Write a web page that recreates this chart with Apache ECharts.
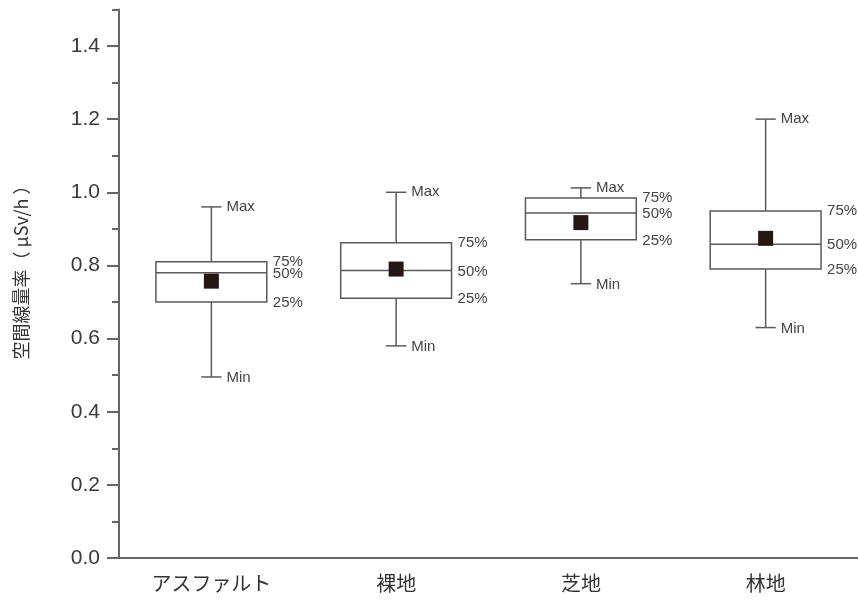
<!DOCTYPE html>
<html>
<head>
<meta charset="utf-8">
<script src="https://cdn.jsdelivr.net/npm/echarts@6/dist/echarts.min.js"></script>
<style>
html,body{margin:0;padding:0;background:#fff;}
#chart{width:858px;height:603px;}
</style>
</head>
<body>
<div id="chart"></div>
<script>
// ---- data ----
const categories = ['アスファルト', '裸地', '芝地', '林地'];
const minVals    = [0.495, 0.58, 0.75, 0.63];
const q1Vals     = [0.70, 0.71, 0.87, 0.79];
const medianVals = [0.78, 0.786, 0.943, 0.858];
const q3Vals     = [0.81, 0.862, 0.984, 0.949];
const maxVals    = [0.96, 1.0, 1.012, 1.2];
const meanVals   = [0.757, 0.79, 0.917, 0.874];
const yTickValues = [0, 0.2, 0.4, 0.6, 0.8, 1.0, 1.2, 1.4];
const yMinorTickValues = [0, 0.1, 0.2, 0.3, 0.4, 0.5, 0.6, 0.7, 0.8, 0.9, 1.0, 1.1, 1.2, 1.3, 1.4, 1.5];
const statLabels = { max: 'Max', min: 'Min', q3: '75%', med: '50%', q1: '25%' };
const yAxisTitle = '空間線量率（ μSv/h ）';

// ---- chart ----
const chart = echarts.init(document.getElementById('chart'), null, { renderer: 'canvas' });

const lineColor = '#5a5a5a';
const textColor = '#444';
const annFont = '15px "Liberation Sans", Arial, sans-serif';

const seriesData = categories.map((c, i) => [i, minVals[i], q1Vals[i], medianVals[i], q3Vals[i], maxVals[i], meanVals[i]]);

function renderItem(params, api) {
  const idx = api.value(0);
  const pMin = api.coord([idx, api.value(1)]);
  const pQ1 = api.coord([idx, api.value(2)]);
  const pMed = api.coord([idx, api.value(3)]);
  const pQ3 = api.coord([idx, api.value(4)]);
  const pMax = api.coord([idx, api.value(5)]);
  const pMean = api.coord([idx, api.value(6)]);
  const band = api.size([1, 0])[0];
  const bw = band * 0.6;
  const cw = band * 0.11;
  const cx = pMed[0];
  const boxL = cx - bw / 2, boxR = cx + bw / 2;
  const ls = { stroke: lineColor, lineWidth: 1.5, fill: null };
  const children = [
    { type: 'line', shape: { x1: cx, y1: pMax[1], x2: cx, y2: pQ3[1] }, style: ls },
    { type: 'line', shape: { x1: cx, y1: pQ1[1], x2: cx, y2: pMin[1] }, style: ls },
    { type: 'line', shape: { x1: cx - cw / 2, y1: pMax[1], x2: cx + cw / 2, y2: pMax[1] }, style: ls },
    { type: 'line', shape: { x1: cx - cw / 2, y1: pMin[1], x2: cx + cw / 2, y2: pMin[1] }, style: ls },
    { type: 'rect', shape: { x: boxL, y: pQ3[1], width: bw, height: pQ1[1] - pQ3[1] }, style: { stroke: lineColor, lineWidth: 1.5, fill: '#fff' } },
    { type: 'line', shape: { x1: boxL, y1: pMed[1], x2: boxR, y2: pMed[1] }, style: ls },
    { type: 'rect', shape: { x: pMean[0] - 7.5, y: pMean[1] - 7.5, width: 15, height: 15 }, style: { fill: '#231815', stroke: null } },
    { type: 'text', style: { text: statLabels.max, x: cx + cw / 2 + 5, y: pMax[1], verticalAlign: 'middle', align: 'left', fill: textColor, font: annFont } },
    { type: 'text', style: { text: statLabels.min, x: cx + cw / 2 + 5, y: pMin[1] + 1, verticalAlign: 'middle', align: 'left', fill: textColor, font: annFont } },
    { type: 'text', style: { text: statLabels.q3, x: boxR + 6, y: pQ3[1], verticalAlign: 'middle', align: 'left', fill: textColor, font: annFont } },
    { type: 'text', style: { text: statLabels.med, x: boxR + 6, y: pMed[1] + 1, verticalAlign: 'middle', align: 'left', fill: textColor, font: annFont } },
    { type: 'text', style: { text: statLabels.q1, x: boxR + 6, y: pQ1[1] + 1, verticalAlign: 'middle', align: 'left', fill: textColor, font: annFont } }
  ];
  return { type: 'group', children };
}

const option = {
  backgroundColor: '#fff',
  animation: false,
  grid: { left: 119, right: 0, top: 9.4, bottom: 45, containLabel: false },
  xAxis: {
    type: 'category',
    data: categories,
    boundaryGap: true,
    axisLine: { lineStyle: { color: '#666', width: 2 } },
    axisTick: { alignWithLabel: true, length: 11, lineStyle: { color: '#666', width: 2 } },
    axisLabel: { color: '#333', fontSize: 20, margin: 15, fontFamily: '"Noto Sans CJK JP", sans-serif' },
    splitLine: { show: false }
  },
  yAxis: [
    {
      type: 'value',
      min: 0, max: 1.5, interval: 0.1,
      position: 'left',
      axisLine: { show: true, lineStyle: { color: '#666', width: 2 } },
      axisTick: { show: true, length: 12, customValues: yTickValues, lineStyle: { color: '#666', width: 2 } },
      axisLabel: { customValues: yTickValues, formatter: v => v.toFixed(1), color: '#3a3a3a', fontSize: 21, margin: 19, fontFamily: '"Liberation Sans", Arial, sans-serif' },
      splitLine: { show: false }
    },
    {
      type: 'value',
      min: 0, max: 1.5, interval: 0.1,
      position: 'left',
      axisLine: { show: false },
      axisTick: { show: true, length: 7, customValues: yMinorTickValues, lineStyle: { color: '#666', width: 2 } },
      axisLabel: { show: false },
      splitLine: { show: false }
    }
  ],
  graphic: [
    {
      type: 'text',
      x: 21, y: 268,
      rotation: Math.PI / 2,
      style: { text: yAxisTitle, align: 'center', verticalAlign: 'middle', fill: '#333', font: '18px "Noto Sans CJK JP", sans-serif' }
    }
  ],
  series: [
    {
      type: 'custom',
      renderItem,
      data: seriesData,
      encode: { x: 0, y: [1, 2, 3, 4, 5, 6] },
      clip: false
    }
  ]
};
chart.setOption(option);
</script>
</body>
</html>
